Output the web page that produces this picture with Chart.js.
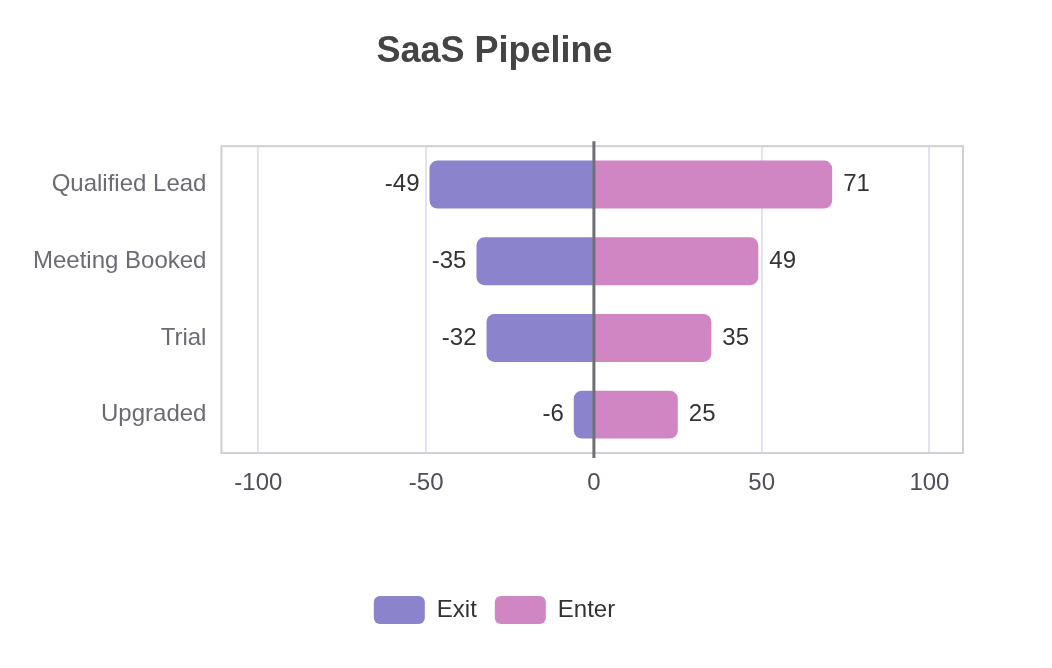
<!DOCTYPE html>
<html>
<head>
<meta charset="utf-8">
<script src="https://cdn.jsdelivr.net/npm/chart.js@4"></script>
<style>
  html, body { margin: 0; padding: 0; background: #fff; }
  #wrap { width: 1052px; height: 668px; }
</style>
</head>
<body>
<div id="wrap"><canvas id="chPipeline" width="1052" height="668"></canvas></div>
<script>
var stages = ['Qualified Lead', 'Meeting Booked', 'Trial', 'Upgraded'];
var exitValues = [-49, -35, -32, -6];
var enterValues = [71, 49, 35, 25];
var xTicks = [-100, -50, 0, 50, 100];

var colors = ['#8b83cc', '#cf86c3'];
var font = "'Liberation Sans', Arial, Helvetica, sans-serif";

/* box round plot area + zero line + value labels */
var pipelinePlugin = {
  id: 'pipeline',
  beforeDatasetsDraw: function(chart) {
    var a = chart.chartArea, ctx = chart.ctx;
    ctx.save();
    ctx.strokeStyle = '#cfcfd6';
    ctx.lineWidth = 2;
    ctx.strokeRect(a.left, a.top, a.right - a.left, a.bottom - a.top);
    ctx.restore();
  },
  afterDatasetsDraw: function(chart) {
    var a = chart.chartArea, ctx = chart.ctx;
    var x0 = chart.scales.x.getPixelForValue(0);
    ctx.save();
    ctx.strokeStyle = '#6e6e74';
    ctx.lineWidth = 3;
    ctx.beginPath();
    ctx.moveTo(x0, a.top - 5);
    ctx.lineTo(x0, a.bottom + 5);
    ctx.stroke();

    ctx.font = '24px ' + font;
    ctx.fillStyle = '#333';
    ctx.textBaseline = 'middle';
    chart.data.datasets.forEach(function(ds, i) {
      chart.getDatasetMeta(i).data.forEach(function(bar, j) {
        var v = ds.data[j];
        if (v < 0) {
          ctx.textAlign = 'right';
          ctx.fillText(String(v), bar.x - 10, bar.y);
        } else {
          ctx.textAlign = 'left';
          ctx.fillText(String(v), bar.x + 11, bar.y);
        }
      });
    });
    ctx.restore();
  }
};

new Chart(document.getElementById('chPipeline'), {
  type: 'bar',
  data: {
    labels: stages,
    datasets: [
      { label: 'Exit', data: exitValues, backgroundColor: colors[0] },
      { label: 'Enter', data: enterValues, backgroundColor: colors[1] }
    ]
  },
  options: {
    indexAxis: 'y',
    responsive: false,
    animation: false,
    layout: { padding: { left: 26, right: 89, top: 0, bottom: 34 } },
    datasets: {
      bar: {
        borderRadius: 8,
        borderSkipped: 'start',
        barPercentage: 0.78,
        categoryPercentage: 0.8
      }
    },
    scales: {
      x: {
        stacked: true,
        min: -111,
        max: 110,
        afterBuildTicks: function(scale) {
          scale.ticks = xTicks.map(function(v) { return { value: v }; });
        },
        afterFit: function(scale) { scale.height = 125; },
        border: { display: false },
        grid: {
          drawTicks: false,
          lineWidth: 2,
          color: function(c) { return c.tick && c.tick.value === 0 ? 'rgba(0,0,0,0)' : '#e4e2f2'; }
        },
        ticks: { padding: 16, color: '#4e4e5c', font: { size: 24, family: font } }
      },
      y: {
        stacked: true,
        border: { display: false },
        grid: { display: false },
        ticks: { padding: 7, color: '#6b6b73', font: { size: 24, family: font } }
      }
    },
    plugins: {
      title: {
        display: true,
        text: 'SaaS Pipeline',
        color: '#444',
        font: { size: 36, weight: 'bold', family: font },
        padding: { top: 30, bottom: 73 }
      },
      legend: {
        position: 'bottom',
        labels: {
          boxWidth: 51,
          boxHeight: 28,
          useBorderRadius: true,
          borderRadius: 6,
          padding: 18,
          color: '#333',
          font: { size: 24, family: font }
        }
      },
      tooltip: { enabled: false }
    }
  },
  plugins: [pipelinePlugin]
});
</script>
</body>
</html>
